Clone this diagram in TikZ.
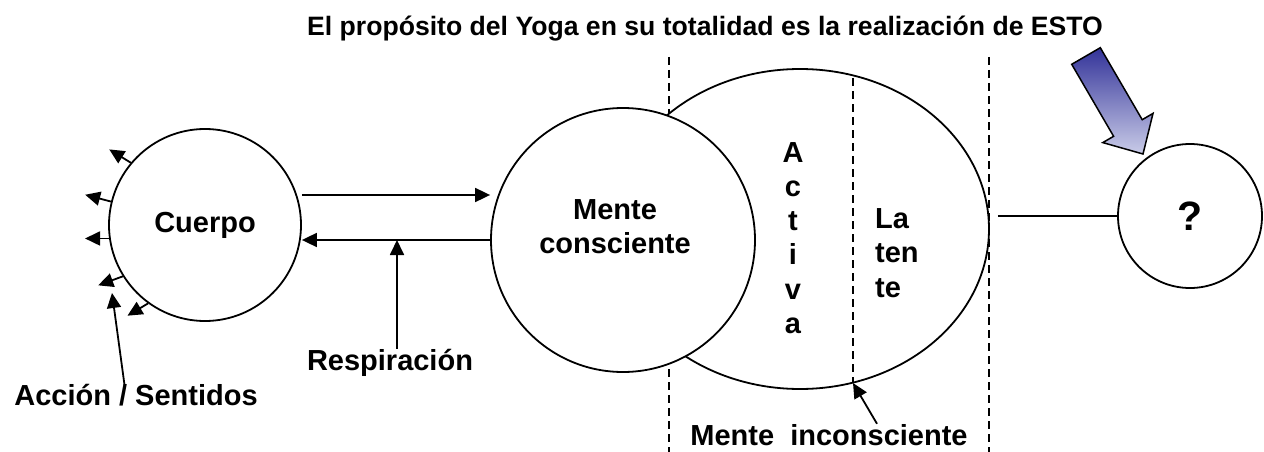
\documentclass[tikz,border=0pt]{standalone}
\usepackage{fontspec}
\setmainfont{Liberation Sans}
\usepackage{tikz}
\usetikzlibrary{arrows.meta}
\usetikzlibrary{shapes.geometric}
\tikzset{flecha/.style = {line width=1.8pt, -{Triangle[length=15pt, width=14pt]}},
         discont/.style = {line width=1.4pt, dash pattern=on 8pt off 5pt},
         burbuja/.style = {draw, fill=white, line width=1.8pt, inner sep=0pt},
         rotulo/.style = {font=\fontsize{29}{34.3}\selectfont\bfseries, inner sep=0pt}}
\definecolor{mnavy}{rgb}{0.2, 0.2, 0.6}
\definecolor{mlavender}{rgb}{0.79, 0.8, 0.91}

\begin{document}
\begin{tikzpicture}[x=1pt, y=-1pt]
    \useasboundingbox (0, 0) rectangle (1264, 452);

    \draw [discont] (669, 57) -- (669, 452);
    \node [burbuja, ellipse, minimum width=378pt, minimum height=320pt] (inconsc) at (800, 229) {};
    \draw [discont] (989, 57) -- (989, 452);
    \begin{scope}
      \clip (800, 229) ellipse [x radius=189, y radius=160];
      \draw [discont] (853, 0) -- (853, 452);
    \end{scope}
    \node [burbuja, circle, minimum size=264pt] (mente) at (623, 240) {};
    \node [burbuja, circle, minimum size=192pt, rotulo] (cuerpo) at (205, 225) {Cuerpo};
    \node [burbuja, circle, minimum size=144pt, font=\fontsize{41}{41}\selectfont\bfseries] (pregunta) at (1190, 216) {?};

    \node [font=\fontsize{26.6}{32}\selectfont\bfseries, inner sep=0pt, anchor=base] (titulo) at (705, 36)
      {El propósito del Yoga en su totalidad es la realización de ESTO};
    \node [rotulo, align=center] (mentetxt) at (615, 227) {Mente\\consciente};
    \node [rotulo, align=center] (activa) at (793, 238) {A\\c\\t\\i\\v\\a};
    \node [rotulo, align=left, anchor=west] (latente) at (875, 253) {La\\ten\\te};
    \node [rotulo, anchor=base] (resp) at (390, 370) {Respiración};
    \node [rotulo, anchor=base] (accion) at (136, 405) {Acción / Sentidos};
    \node [rotulo, anchor=base] (inconsctxt) at (829, 445) {Mente~~inconsciente};

    \coordinate (acctip) at (112, 293);
    \coordinate (latfondo) at (853, 383);

    \draw [flecha] ([yshift=30pt]cuerpo.east) -- ([yshift=45pt]mente.west);
    \draw [flecha] (mente.west) -- ([yshift=-15pt]cuerpo.east);
    \draw [flecha] ([xshift=7pt]resp.north) -- ([xshift=7pt]resp.north |- mente.west);
    \draw [flecha] ([xshift=-11pt, yshift=-5pt]accion.north) -- (acctip);
    \draw [flecha] ([xshift=48pt]inconsctxt.north) -- (latfondo);
    \foreach \ang/\dx/\dy in {140/-21.5/-13.3, 166/-25.8/-6.8, 188/-24/0, 212/-24.6/9, 234/-20.6/12.3}
      \draw [flecha] (cuerpo.\ang) -- ++(\dx, \dy);
    \draw [line width=1.6pt] ([xshift=8pt]inconsc.east |- pregunta.west) -- (pregunta.west);

    \shade [top color=mnavy, bottom color=mlavender, draw=black, line width=1.5pt]
      (1100.3, 47.7) -- (1142.2, 119.7) -- (1153, 113.4) -- (1143, 154)
      -- (1102.8, 142.6) -- (1113.6, 136.3) -- (1071.7, 64.3) -- cycle;
  \end{tikzpicture}
\end{document}
